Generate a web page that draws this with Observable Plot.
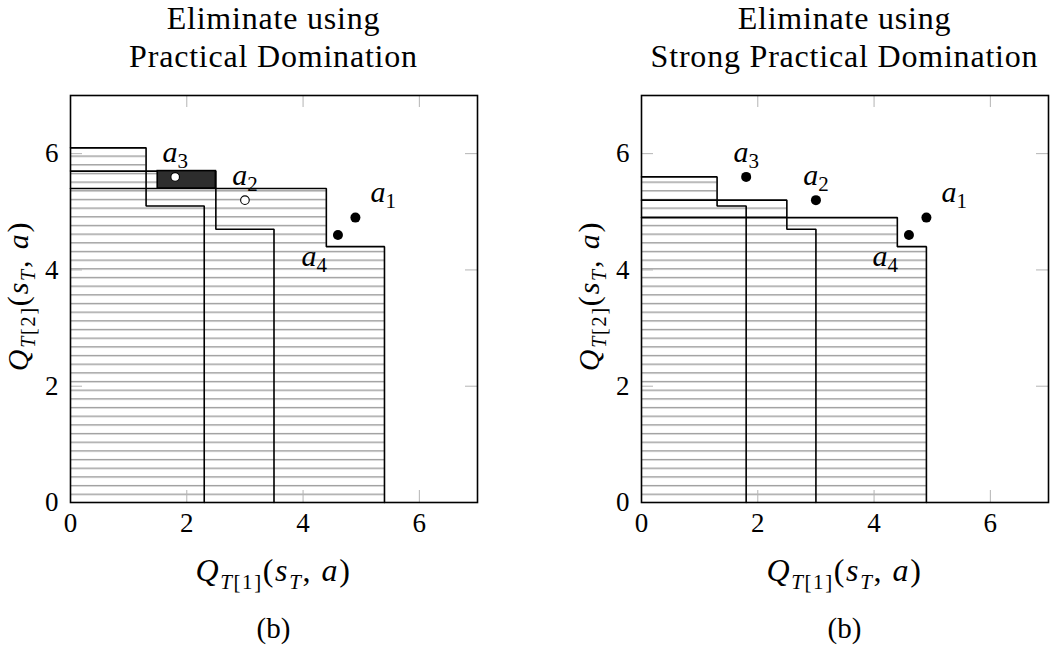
<!DOCTYPE html>
<html><head><meta charset="utf-8">
<script src="https://cdn.jsdelivr.net/npm/d3@7"></script>
<script src="https://cdn.jsdelivr.net/npm/@observablehq/plot@0.6"></script>
<style>
html,body{margin:0;padding:0;background:#fff;}
#wrap{position:relative;width:1050px;height:645px;overflow:hidden;background:#fff;}
#wrap > svg{position:absolute;top:0;}
</style></head><body><div id="wrap"></div>
<script>
// ---- data ----
const actions = ["a1", "a2", "a3", "a4"];
const q1 = [4.9, 3.0, 1.8, 4.6];
const q2 = [4.9, 5.2, 5.6, 4.6];
const hollowLeft = ["a2", "a3"];          // open markers in the left panel

// Practical domination regions (left panel): two-step staircases
const pdOwner = ["a1", "a2", "a3"];
const pdStepX = [4.4, 2.5, 1.3];
const pdTopY  = [5.4, 5.7, 6.1];
const pdEndX  = [5.4, 3.5, 2.3];
const pdLowY  = [4.4, 4.7, 5.1];

// Strong practical domination regions (right panel)
const spdOwner = ["a1", "a2", "a3"];
const spdStepX = [4.4, 2.5, 1.3];
const spdTopY  = [4.9, 5.2, 5.6];
const spdEndX  = [4.9, 3.0, 1.8];
const spdLowY  = [4.4, 4.7, 5.1];

// dark block in the left panel
const darkX = [1.5, 2.5];
const darkY = [5.4, 5.7];

const tickValues = [0, 2, 4, 6];
const axisDomain = [0, 7];

const titleLines = [["Eliminate using", "Practical Domination"], ["Eliminate using", "Strong Practical Domination"]];
const captionText = ["(b)", "(b)"];
// [text, italic, subscript]
const xLabelParts = [["Q",1,0],["T",1,1],["[1]",0,1],["(",0,0],["s",1,0],["T",1,1],[", ",0,0],["a",1,0],[")",0,0]];
const yLabelParts = [["Q",1,0],["T",1,1],["[2]",0,1],["(",0,0],["s",1,0],["T",1,1],[", ",0,0],["a",1,0],[")",0,0]];

// ---- helpers ----
const FONT = "Liberation Serif, DejaVu Serif, serif";
function buildStairs(owner, sx, ty, ex, ly) {
  const rects = [], path = [];
  owner.forEach((o, i) => {
    rects.push({o, x: sx[i], y: ty[i]}, {o, x: ex[i], y: ly[i]});
    path.push({o, x: 0, y: ty[i]}, {o, x: sx[i], y: ty[i]}, {o, x: sx[i], y: ly[i]},
              {o, x: ex[i], y: ly[i]}, {o, x: ex[i], y: 0});
  });
  return {rects, path};
}
const points = actions.map((a, i) => ({a, x: q1[i], y: q2[i]}));

function mathText(sel, parts, size, subSize, subShift) {
  let cur = 0;
  parts.forEach(([t, it, sub]) => {
    const target = sub ? subShift : 0;
    const ts = sel.append("tspan").text(t)
      .attr("font-size", sub ? subSize : size)
      .attr("font-style", it ? "italic" : "normal");
    if (target !== cur) ts.attr("dy", target - cur);
    cur = target;
  });
}

function panel(idx, isLeft) {
  const W = 525, H = 645;
  const mL = isLeft ? 70 : 116, mR = isLeft ? 48 : 2, mT = 95, mB = 143;
  const fw = W - mL - mR, fh = H - mT - mB;
  const st = isLeft ? buildStairs(pdOwner, pdStepX, pdTopY, pdEndX, pdLowY)
                    : buildStairs(spdOwner, spdStepX, spdTopY, spdEndX, spdLowY);
  const hatchId = "hatch" + idx;
  const tickStyle = {stroke: "#b4b4b4", strokeWidth: 1};
  const filled = isLeft ? points.filter(d => !hollowLeft.includes(d.a)) : points;
  const hollow = isLeft ? points.filter(d => hollowLeft.includes(d.a)) : [];
  const lbl = {fontSize: 30, fontFamily: FONT, fill: "black"};
  const marks = [
    Plot.rect(st.rects, {x1: 0, y1: 0, x2: "x", y2: "y", fill: `url(#${hatchId})`}),
    Plot.tickX(tickValues, {x: d => d, insetTop: fh - 12, ...tickStyle}),
    Plot.tickX(tickValues, {x: d => d, insetBottom: fh - 12, ...tickStyle}),
    Plot.tickY(tickValues, {y: d => d, insetRight: fw - 12, ...tickStyle}),
    Plot.tickY(tickValues, {y: d => d, insetLeft: fw - 12, ...tickStyle}),
    Plot.line(st.path, {x: "x", y: "y", z: "o", stroke: "black", strokeWidth: 1.6, strokeLinejoin: "miter"})
  ];
  if (isLeft) {
    marks.push(Plot.rect([{x1: darkX[0], x2: darkX[1], y1: darkY[0], y2: darkY[1]}],
      {x1: "x1", x2: "x2", y1: "y1", y2: "y2", fill: "#2d2d2d", stroke: "black", strokeWidth: 1.6}));
  }
  marks.push(
    Plot.frame({stroke: "black", strokeWidth: 1.6}),
    Plot.dot(filled, {x: "x", y: "y", r: 5, fill: "black", stroke: "none"}),
    Plot.dot(hollow, {x: "x", y: "y", r: 4.3, fill: "white", stroke: "black", strokeWidth: 1.1}),
    Plot.text(points.filter(d => d.a === "a2" || d.a === "a3"), {x: "x", y: "y", text: "a", textAnchor: "middle", lineAnchor: "bottom", dy: -15, ...lbl}),
    Plot.text(points.filter(d => d.a === "a1"), {x: "x", y: "y", text: "a", textAnchor: "start", lineAnchor: "bottom", dx: 15, dy: -16, ...lbl}),
    Plot.text(points.filter(d => d.a === "a4"), {x: "x", y: "y", text: "a", textAnchor: "end", lineAnchor: "bottom", dx: -11, dy: 31, ...lbl}),
    Plot.axisX({ticks: tickValues, tickFormat: d => String(d), tickSize: 0, tickPadding: 10, fontSize: 27, fontFamily: FONT, fill: "black", label: null, anchor: "bottom"}),
    Plot.axisY({ticks: tickValues, tickFormat: d => String(d), tickSize: 0, tickPadding: 12, fontSize: 27, fontFamily: FONT, fill: "black", label: null, anchor: "left"})
  );
  const chart = Plot.plot({
    width: W, height: H, marginLeft: mL, marginRight: mR, marginTop: mT, marginBottom: mB,
    x: {domain: axisDomain}, y: {domain: axisDomain},
    style: {fontFamily: FONT, background: "white", overflow: "visible", color: "black"},
    marks
  });
  chart.style.left = (isLeft ? 0 : 525) + "px";
  const svg = d3.select(chart);
  // hatch pattern (opaque tile so overlapping regions look identical)
  const defs = svg.insert("defs", ":first-child");
  const pat = defs.append("pattern").attr("id", hatchId).attr("patternUnits", "userSpaceOnUse")
    .attr("x", 0).attr("y", -0.6).attr("width", 600).attr("height", 8.67);
  pat.append("rect").attr("x", 0).attr("y", 0).attr("width", 600).attr("height", 8.67).attr("fill", "white");
  pat.append("rect").attr("x", 0).attr("y", 0).attr("width", 600).attr("height", 1.4).attr("fill", "#9c9c9c");
  // subscripted action labels
  svg.selectAll('g[aria-label="text"] text').each(function() {
    const s = this.textContent;
    const m = /^a(\d)$/.exec(s);
    if (!m) return;
    this.textContent = "";
    const t = d3.select(this);
    t.append("tspan").attr("font-style", "italic").text("a");
    t.append("tspan").attr("font-size", 21).attr("dy", 6).text(m[1]);
  });
  const cx = mL + fw / 2;
  const g = svg.append("g").attr("font-family", FONT).attr("fill", "black");
  titleLines[idx].forEach((line, k) => {
    g.append("text").attr("x", cx).attr("y", 28.5 + k * 38.3).attr("text-anchor", "middle")
      .attr("font-size", 32).attr("letter-spacing", 0.8).text(line);
  });
  const xl = g.append("text").attr("x", cx).attr("y", 581).attr("text-anchor", "middle").attr("letter-spacing", 1.6);
  mathText(xl, xLabelParts, 32, 21, 8);
  const yl = g.append("text").attr("transform", `translate(${mL - 42},296) rotate(-90)`).attr("text-anchor", "middle").attr("letter-spacing", 1.8);
  mathText(yl, yLabelParts, 30, 20, 7);
  g.append("text").attr("x", cx).attr("y", 638).attr("text-anchor", "middle").attr("font-size", 29).text(captionText[idx]);
  document.getElementById("wrap").appendChild(chart);
}
panel(0, true);
panel(1, false);
</script></body></html>
